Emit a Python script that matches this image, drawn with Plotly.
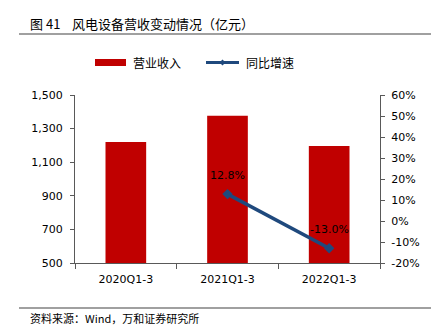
import plotly.graph_objects as go

categories = ["2020Q1-3", "2021Q1-3", "2022Q1-3"]
revenue = [1220, 1376, 1197]
growth = [None, 12.8, -13.0]
left_ticks = [500, 700, 900, 1100, 1300, 1500]
left_tick_text = ["500", "700", "900", "1,100", "1,300", "1,500"]
right_ticks = [-20, -10, 0, 10, 20, 30, 40, 50, 60]
right_tick_text = ["-20%", "-10%", "0%", "10%", "20%", "30%", "40%", "50%", "60%"]

W, H = 439, 333
L, R, T, B = 75, 59, 95, 70
pw, ph = W - L - R, H - T - B

def px(x):
    return (x - L) / pw

def py(y):
    return (H - B - y) / ph

cjk = "Noto Sans CJK SC"
num = "DejaVu Sans"
blue = "#1F497D"
red = "#C00000"

fig = go.Figure()
fig.add_trace(go.Bar(
    x=categories, y=revenue, name="营业收入",
    marker=dict(color=red, line=dict(width=0)),
    width=0.4, yaxis="y",
))
fig.add_trace(go.Scatter(
    x=categories, y=growth, name="同比增速", yaxis="y2",
    mode="lines+markers",
    line=dict(color=blue, width=3.5),
    marker=dict(symbol="diamond", size=8, color=blue),
    cliponaxis=False,
))

annotations = [
    dict(text="图 41    风电设备营收变动情况（亿元）", xref="paper", yref="paper",
         x=px(28), y=py(24), xanchor="left", yanchor="middle", showarrow=False,
         font=dict(family=cjk, size=13, color="#000000")),
    dict(text="资料来源：Wind，万和证券研究所", xref="paper", yref="paper",
         x=px(28), y=py(318), xanchor="left", yanchor="middle", showarrow=False,
         font=dict(family=cjk, size=11, color="#000000")),
    dict(text="营业收入", xref="paper", yref="paper", x=px(131), y=py(62),
         xanchor="left", yanchor="middle", showarrow=False,
         font=dict(family=cjk, size=12, color="#000000")),
    dict(text="同比增速", xref="paper", yref="paper", x=px(244), y=py(62),
         xanchor="left", yanchor="middle", showarrow=False,
         font=dict(family=cjk, size=12, color="#000000")),
]
for c, g in zip(categories, growth):
    if g is not None:
        annotations.append(dict(
            text=f"{g:.1f}%", xref="x", yref="y2", x=c, y=g, yshift=19,
            xanchor="center", yanchor="middle", showarrow=False,
            font=dict(family=num, size=11, color="#000000")))

fig.update_layout(
    width=W, height=H,
    margin=dict(l=L, r=R, t=T, b=B),
    paper_bgcolor="white", plot_bgcolor="white",
    font=dict(family=num, size=11, color="#000000"),
    showlegend=False,
    xaxis=dict(type="category", showline=True, linecolor="#595959", linewidth=1,
               ticks="outside", tickson="boundaries", ticklen=5, tickcolor="#595959",
               ticklabelstandoff=6,
               showgrid=False, tickfont=dict(family=num, size=11), range=[-0.5, 2.5]),
    yaxis=dict(range=[500, 1500], tickvals=left_ticks, ticktext=left_tick_text,
               showline=True, linecolor="#595959", linewidth=1, ticks="outside", ticklen=4,
               tickcolor="#595959", showgrid=False, zeroline=False, ticklabelstandoff=5,
               tickfont=dict(family=num, size=11)),
    yaxis2=dict(range=[-20, 60], tickvals=right_ticks, ticktext=right_tick_text,
                overlaying="y", side="right", showline=True, linecolor="#595959",
                linewidth=1, ticks="outside", ticklen=4, tickcolor="#595959",
                ticklabelstandoff=4,
                showgrid=False, zeroline=False, tickfont=dict(family=num, size=11)),
    shapes=[
        dict(type="line", xref="paper", yref="paper", x0=px(19), x1=px(431),
             y0=py(34), y1=py(34), line=dict(color="#808080", width=1.5)),
        dict(type="line", xref="paper", yref="paper", x0=px(19), x1=px(431),
             y0=py(308), y1=py(308), line=dict(color="#808080", width=1.5)),
        dict(type="rect", xref="paper", yref="paper", x0=px(95), x1=px(126),
             y0=py(66), y1=py(59), fillcolor=red, line=dict(width=0)),
        dict(type="line", xref="paper", yref="paper", x0=px(206), x1=px(239),
             y0=py(62.5), y1=py(62.5), line=dict(color=blue, width=3)),
        dict(type="path", xref="paper", yref="paper",
             path=f"M {px(219.5)},{py(62.5)} L {px(222.5)},{py(59.5)} L {px(225.5)},{py(62.5)} L {px(222.5)},{py(65.5)} Z",
             fillcolor=blue, line=dict(width=0)),
    ],
    annotations=annotations,
)

fig.write_html("out.html")
